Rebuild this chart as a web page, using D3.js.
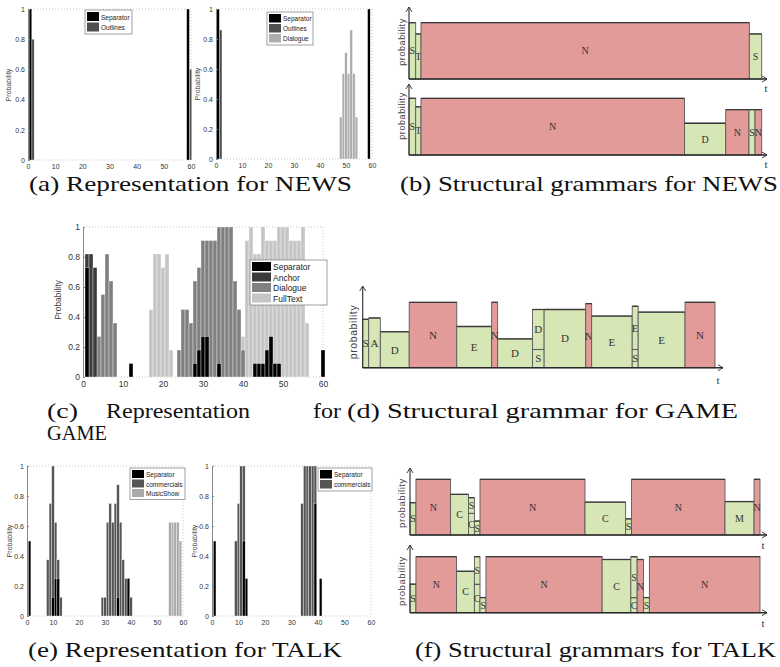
<!DOCTYPE html>
<html>
<head>
<meta charset="utf-8">
<script src="https://cdn.jsdelivr.net/npm/d3@7"></script>
<style>
  body { margin: 0; background: #fff; }
  svg { display: block; }
</style>
</head>
<body>
<svg id="fig" width="780" height="667"></svg>
<script>
// ---- shared ticks
const xTicks = [0, 10, 20, 30, 40, 50, 60];
const yTicks = [0, 0.2, 0.4, 0.6, 0.8, 1];

// ---- (a) NEWS histograms: [bin, probability]
const newsA1Separator = [[1, 1], [59, 1]];
const newsA1Outlines = [[1, 0.8], [59, 0.6]];
const newsA2Separator = [[1, 1], [59, 1]];
const newsA2Outlines = [[1, 0.86]];
const newsA2Dialogue = [[48, 0.28], [49, 0.57], [50, 0.71], [51, 0.57], [52, 0.86], [53, 0.57], [54, 0.28]];

// ---- (c) GAME histogram
const gameSeparator = [[1, 0.73], [12, 0.09], [28, 0.09], [29, 0.18], [30, 0.27], [31, 0.27], [34, 0.09],
  [43, 0.09], [44, 0.09], [45, 0.09], [46, 0.18], [47, 0.27], [48, 0.09], [49, 0.09], [60, 0.18]];
const gameAnchor = [[1, 0.82], [2, 0.82], [3, 0.73]];
const gameDialogue = [[4, 0.27], [5, 0.55], [6, 0.82], [7, 0.64], [8, 0.36],
  [24, 0.18], [25, 0.45], [26, 0.45], [27, 0.36], [28, 0.64], [29, 0.73], [30, 0.91], [31, 0.91],
  [32, 0.91], [33, 0.91], [34, 1], [35, 1], [36, 1], [37, 1], [38, 0.64], [39, 0.45], [40, 0.18]];
const gameFullText = [[17, 0.45], [18, 0.82], [19, 0.82], [20, 0.73], [21, 0.82], [22, 0.18],
  [40, 0.27], [41, 0.91], [42, 1], [43, 0.82], [44, 0.82], [45, 1], [46, 0.91], [47, 0.91], [48, 0.91],
  [49, 1], [50, 1], [51, 1], [52, 0.91], [53, 0.91], [54, 0.91], [55, 1], [56, 0.36]];

// ---- (e) TALK histograms
const talkE1Separator = [[1, 0.5], [10, 0.125], [11, 0.25], [12, 0.25], [35, 0.125], [39, 0.25]];
const talkE1Commercials = [[8, 0.375], [9, 0.75], [10, 1], [11, 0.625], [12, 0.375], [13, 0.125],
  [29, 0.125], [30, 0.125], [31, 0.625], [32, 0.75], [33, 0.625], [34, 0.75], [35, 0.875],
  [36, 0.625], [37, 0.375], [38, 0.25], [39, 0.25], [40, 0.125]];
const talkE1MusicShow = [[55, 0.625], [56, 0.625], [57, 0.625], [58, 0.625], [59, 0.5]];
const talkE2Separator = [[1, 0.5], [12, 0.5], [13, 0.25], [39, 0.75], [41, 0.25]];
const talkE2Commercials = [[9, 0.5], [10, 0.75], [11, 1], [12, 1], [34, 0.75], [35, 1], [36, 1], [37, 1], [38, 1], [39, 1]];

// ---- structural grammars: [label, tStart, tEnd, pLow, pHigh]  (t in 0..100)
const newsRow1 = [["S", 0, 1.9, 0, 1], ["T", 1.9, 3.4, 0, 0.8], ["N", 3.4, 96.5, 0, 1], ["S", 96.5, 100, 0, 0.8]];
const newsRow2 = [["S", 0, 1.9, 0, 1], ["T", 1.9, 3.4, 0, 0.85], ["N", 3.4, 78.1, 0, 1], ["D", 78.1, 89.8, 0, 0.56],
  ["N", 89.8, 96.4, 0, 0.8], ["S", 96.4, 98.1, 0, 0.8], ["N", 98.1, 100, 0, 0.8]];
const gameRow = [["S", 0, 1.7, 0, 0.74], ["A", 1.7, 5.0, 0, 0.76], ["D", 5.0, 13.2, 0, 0.55], ["N", 13.2, 26.7, 0, 1],
  ["E", 26.7, 36.6, 0, 0.63], ["N", 36.6, 38.3, 0, 1], ["D", 38.3, 48.2, 0, 0.44],
  ["S", 48.2, 51.5, 0, 0.28], ["D", 48.2, 51.5, 0.28, 0.89], ["D", 51.5, 63.3, 0, 0.89], ["N", 63.3, 65.0, 0, 0.98],
  ["E", 65.0, 76.5, 0, 0.79], ["S", 76.5, 78.2, 0, 0.28], ["E", 76.5, 78.2, 0.28, 0.94], ["E", 78.2, 91.5, 0, 0.85],
  ["N", 91.5, 100, 0, 1]];
const talkRow1 = [["S", 0, 1.7, 0, 0.58], ["N", 1.7, 11.6, 0, 1], ["C", 11.6, 16.7, 0, 0.73],
  ["C", 16.7, 18.4, 0, 0.39], ["S", 16.7, 18.4, 0.39, 0.67], ["S", 18.4, 20.0, 0, 0.25], ["N", 20.0, 50.0, 0, 1],
  ["C", 50.0, 61.6, 0, 0.59], ["S", 61.6, 63.3, 0, 0.29], ["N", 63.3, 90.0, 0, 1], ["M", 90.0, 98.3, 0, 0.6],
  ["N", 98.3, 100, 0, 1]];
const talkRow2 = [["S", 0, 1.7, 0, 0.51], ["N", 1.7, 13.3, 0, 1], ["C", 13.3, 18.4, 0, 0.74],
  ["C", 18.4, 20.0, 0, 0.51], ["S", 18.4, 20.0, 0.51, 1], ["S", 20.0, 21.7, 0, 0.27], ["N", 21.7, 54.9, 0, 1],
  ["C", 54.9, 63.1, 0, 0.95], ["C", 63.1, 64.9, 0, 0.27], ["S", 63.1, 64.9, 0.27, 1], ["N", 64.9, 66.7, 0, 0.95],
  ["S", 66.7, 68.4, 0, 0.27], ["N", 68.4, 100, 0, 1]];

const svg = d3.select("#fig");
const SANS = "'Liberation Sans', Arial, sans-serif";
const SERIF = "'Liberation Serif', 'Times New Roman', serif";

function drawHist(cfg) {
    const g = svg.append("g");
    const x = d3.scaleLinear().domain([0, 60]).range([cfg.left, cfg.right]);
    const y = d3.scaleLinear().domain([0, 1]).range([cfg.bottom, cfg.top]);

    // dotted box (matlab look)
    g.append("path")
        .attr("d", "M" + cfg.left + "," + cfg.top + "H" + cfg.right + "V" + cfg.bottom + "H" + cfg.left)
        .attr("fill", "none").attr("stroke", "#bbb").attr("stroke-width", 0.8)
        .style("stroke-dasharray", "1,2");

    // draw last series first so separators end up on top
    cfg.series.slice().reverse().forEach(function (s) {
        g.selectAll(null).data(s.data).join("rect")
            .attr("x", d => x(d[0] + (s.offset || 0) - s.width / 2))
            .attr("width", x(s.width) - x(0))
            .attr("y", d => y(d[1]))
            .attr("height", d => y(0) - y(d[1]))
            .attr("fill", s.color)
            .attr("stroke", "#fff").attr("stroke-width", 0.35);
    });

    // y axis
    const ya = g.append("g")
        .attr("transform", "translate(" + cfg.left + ",0)")
        .call(d3.axisLeft(y).tickValues(yTicks).tickSizeInner(-2).tickSizeOuter(0).tickPadding(3).tickFormat(d => d));
    ya.select(".domain").attr("stroke", "#888");
    ya.selectAll(".tick line").attr("stroke", "#888");
    ya.selectAll("text").attr("font-family", SANS).attr("font-size", cfg.fs).attr("fill", "#333");

    // x axis
    const xa = g.append("g")
        .attr("transform", "translate(0," + cfg.bottom + ")")
        .call(d3.axisBottom(x).tickValues(xTicks).tickSize(0).tickPadding(4));
    xa.select(".domain").remove();
    xa.selectAll("text").attr("font-family", SANS).attr("font-size", cfg.fs).attr("fill", "#333");

    // y label
    g.append("text")
        .attr("transform", "translate(" + cfg.labelX + "," + cfg.labelY + ")rotate(-90)")
        .attr("text-anchor", "middle")
        .attr("font-family", SANS).attr("font-size", cfg.fs).attr("fill", "#444")
        .text("Probability");

    // legend
    const L = cfg.legend;
    const lg = g.append("g").attr("transform", "translate(" + L.x + "," + L.y + ")");
    lg.append("rect")
        .attr("width", L.w).attr("height", cfg.series.length * L.rowH + 3)
        .attr("fill", "#fff").attr("stroke", "#777").attr("stroke-width", 0.7);
    cfg.series.forEach(function (s, i) {
        lg.append("rect")
            .attr("x", 2).attr("y", 2 + i * L.rowH)
            .attr("width", L.sw).attr("height", L.rowH - 1.5)
            .attr("fill", s.color);
        lg.append("text")
            .attr("x", L.sw + 4).attr("y", 2 + i * L.rowH + L.rowH / 2)
            .attr("dy", "0.35em")
            .attr("font-family", SANS).attr("font-size", L.fs).attr("fill", "#222")
            .text(s.name);
    });
}

function drawGrammar(cfg) {
    const g = svg.append("g");
    const x = d3.scaleLinear().domain([0, 100]).range([cfg.left, cfg.right]);
    const y = d3.scaleLinear().domain([0, 1]).range([cfg.base, cfg.base - cfg.h]);

    const blocks = g.selectAll(null).data(cfg.data).join("g");
    blocks.append("rect")
        .attr("x", d => x(d[1]))
        .attr("y", d => y(d[4]))
        .attr("width", d => x(d[2]) - x(d[1]))
        .attr("height", d => y(d[3]) - y(d[4]))
        .attr("fill", d => d[0] === "N" ? "#e39b9a" : "#d6e7b5")
        .attr("stroke", "#5a5a5a").attr("stroke-width", 0.9);
    blocks.append("line")
        .attr("x1", d => x(d[1])).attr("x2", d => x(d[2]))
        .attr("y1", d => y(d[4])).attr("y2", d => y(d[4]))
        .attr("stroke", "#3a3a3a").attr("stroke-width", 1.3);
    blocks.append("text")
        .attr("x", d => (x(d[1]) + x(d[2])) / 2)
        .attr("y", d => (y(d[3]) + y(d[4])) / 2)
        .attr("dy", "0.35em")
        .attr("text-anchor", "middle")
        .attr("font-family", SERIF).attr("font-size", cfg.fs).attr("fill", "#333")
        .text(d => d[0]);

    // axes with arrows
    g.append("path")
        .attr("d", "M" + cfg.left + "," + cfg.base + "H" + cfg.arrowEnd)
        .attr("stroke", "#2a2a2a").attr("stroke-width", 1.6).attr("fill", "none");
    g.append("path")
        .attr("d", "M" + cfg.left + "," + cfg.base + "V" + cfg.arrowTop)
        .attr("stroke", "#2a2a2a").attr("stroke-width", 1.1).attr("fill", "none");
    g.append("path")
        .attr("d", "M" + (cfg.arrowEnd - 5) + "," + (cfg.base - 3) + "L" + cfg.arrowEnd + "," + cfg.base +
            "L" + (cfg.arrowEnd - 5) + "," + (cfg.base + 3))
        .attr("stroke", "#2a2a2a").attr("stroke-width", 0.9).attr("fill", "none");
    g.append("path")
        .attr("d", "M" + (cfg.left - 3) + "," + (cfg.arrowTop + 5) + "L" + cfg.left + "," + cfg.arrowTop +
            "L" + (cfg.left + 3) + "," + (cfg.arrowTop + 5))
        .attr("stroke", "#2a2a2a").attr("stroke-width", 0.9).attr("fill", "none");

    g.append("text")
        .attr("x", cfg.tX).attr("y", cfg.tY)
        .attr("text-anchor", "middle")
        .attr("font-family", SERIF).attr("font-size", 11).attr("fill", "#333")
        .text("t");
    g.append("text")
        .attr("transform", "translate(" + cfg.probX + "," + cfg.probY + ")rotate(-90)")
        .attr("text-anchor", "middle")
        .attr("font-family", SANS).attr("font-size", cfg.probFs).attr("fill", "#444")
        .attr("letter-spacing", 0.6)
        .text("probability");
}

function caption(txt, x0, x1, yb) {
    svg.append("text")
        .attr("x", x0).attr("y", yb)
        .attr("font-family", SERIF).attr("font-size", 21).attr("fill", "#111")
        .attr("textLength", x1 - x0).attr("lengthAdjust", "spacingAndGlyphs")
        .text(txt);
}

const C_SEP = "#000", C_MID = "#808080", C_LIGHT = "#c6c6c6";

// (a)
drawHist({
    left: 28, right: 191, top: 9, bottom: 160, fs: 7, labelX: 11, labelY: 85,
    legend: {x: 85, y: 10, w: 47, rowH: 10.5, sw: 12, fs: 6.5},
    series: [
        {name: "Separator", color: C_SEP, data: newsA1Separator, offset: -0.1, width: 1},
        {name: "Outlines", color: "#505050", data: newsA1Outlines, offset: 0.85, width: 0.85}
    ]
});
drawHist({
    left: 216, right: 372, top: 9, bottom: 159, fs: 7, labelX: 200, labelY: 84,
    legend: {x: 267, y: 12, w: 46, rowH: 10, sw: 12, fs: 6.5},
    series: [
        {name: "Separator", color: C_SEP, data: newsA2Separator, offset: -0.2, width: 1},
        {name: "Outlines", color: "#505050", data: newsA2Outlines, offset: 0.8, width: 1},
        {name: "Dialogue", color: "#adadad", data: newsA2Dialogue, offset: 0, width: 1}
    ]
});

// (c)
drawHist({
    left: 83, right: 323, top: 227, bottom: 377, fs: 8.5, labelX: 61, labelY: 300,
    legend: {x: 250, y: 260, w: 77, rowH: 10.5, sw: 19, fs: 8.5},
    series: [
        {name: "Separator", color: C_SEP, data: gameSeparator, width: 1},
        {name: "Anchor", color: "#3c3c3c", data: gameAnchor, width: 1},
        {name: "Dialogue", color: C_MID, data: gameDialogue, width: 1},
        {name: "FullText", color: C_LIGHT, data: gameFullText, width: 1}
    ]
});

// (e)
drawHist({
    left: 27, right: 183, top: 466, bottom: 616, fs: 7, labelX: 12, labelY: 541,
    legend: {x: 130, y: 468, w: 55, rowH: 9.5, sw: 12, fs: 6.5},
    series: [
        {name: "Separator", color: C_SEP, data: talkE1Separator, width: 1},
        {name: "commercials", color: "#555", data: talkE1Commercials, width: 1},
        {name: "MusicShow", color: "#aaa", data: talkE1MusicShow, width: 1}
    ]
});
drawHist({
    left: 212, right: 371, top: 466, bottom: 616, fs: 7, labelX: 197, labelY: 541,
    legend: {x: 318, y: 468, w: 54, rowH: 10, sw: 12, fs: 6.5},
    series: [
        {name: "Separator", color: C_SEP, data: talkE2Separator, width: 1},
        {name: "commercials", color: "#555", data: talkE2Commercials, width: 1}
    ]
});

// (b)
drawGrammar({data: newsRow1, left: 409, right: 761.7, base: 79, h: 56.3, arrowTop: 7, arrowEnd: 767,
    tX: 766, tY: 92, probX: 405, probY: 42, probFs: 9, fs: 10});
drawGrammar({data: newsRow2, left: 409, right: 761.7, base: 155, h: 56.7, arrowTop: 84, arrowEnd: 767,
    tX: 766, tY: 168, probX: 405, probY: 116, probFs: 9, fs: 10});
// (d)
drawGrammar({data: gameRow, left: 362.7, right: 715, base: 367.7, h: 65.4, arrowTop: 286, arrowEnd: 723,
    tX: 718, tY: 384, probX: 357, probY: 332, probFs: 10.5, fs: 11});
// (f)
drawGrammar({data: talkRow1, left: 410, right: 760, base: 535, h: 55.7, arrowTop: 468, arrowEnd: 767,
    tX: 763, tY: 549, probX: 405, probY: 503, probFs: 9.5, fs: 10});
drawGrammar({data: talkRow2, left: 410, right: 760, base: 612.7, h: 56, arrowTop: 545, arrowEnd: 767,
    tX: 763, tY: 627, probX: 405, probY: 581, probFs: 9.5, fs: 10});

// captions
caption("(a) Representation for NEWS", 29, 352, 191);
caption("(b) Structural grammars for NEWS", 400, 778, 191);
caption("(c)", 47, 78, 418);
caption("Representation", 106, 250, 418);
caption("for", 313, 341, 418);
caption("GAME", 47, 107, 440);
caption("(d) Structural grammar for GAME", 347, 738, 418);
caption("(e) Representation for TALK", 28, 342, 657);
caption("(f) Structural grammars for TALK", 415, 776, 657);
</script>
</body>
</html>
